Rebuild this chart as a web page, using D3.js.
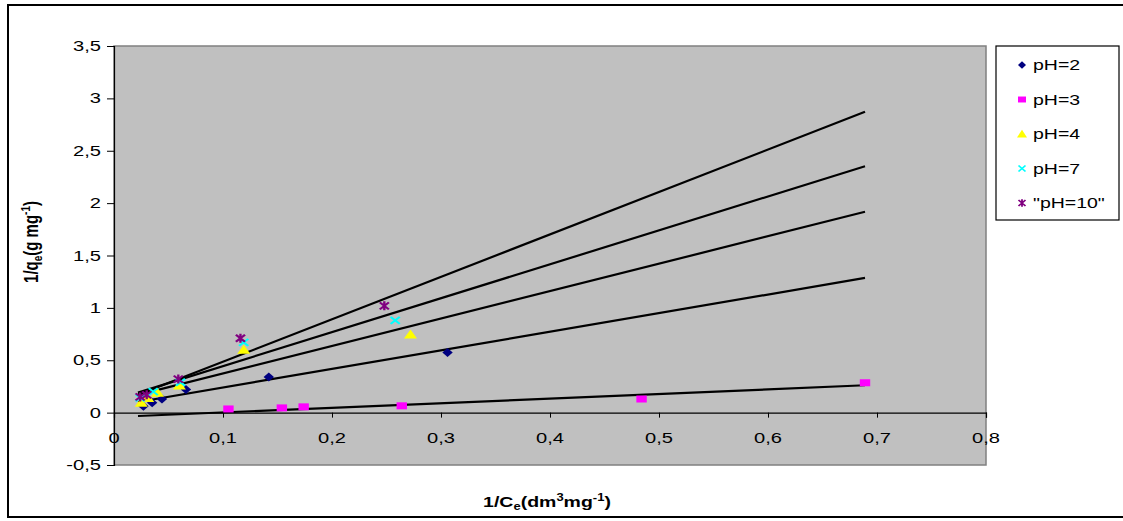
<!DOCTYPE html>
<html>
<head>
<meta charset="utf-8">
<script src="https://cdn.jsdelivr.net/npm/d3@7"></script>
<style>
  body { margin: 0; background: #fff; }
  text { font-family: "Liberation Sans", Arial, sans-serif; }
</style>
</head>
<body>
<svg id="chart" width="1123" height="521"></svg>
<script>
// series
let seriesNames = ['pH=2', 'pH=3', 'pH=4', 'pH=7', '"pH=10"']
let seriesColors = ['#000080', '#FF00FF', '#FFFF00', '#00FFFF', '#800080']
let seriesShapes = ['diamond', 'square', 'triangle', 'cross', 'star']

let ph2 = [[0.027, 0.06], [0.035, 0.095], [0.044, 0.13], [0.066, 0.22], [0.142, 0.34], [0.306, 0.575]]
let ph3 = [[0.105, 0.035], [0.154, 0.045], [0.174, 0.055], [0.264, 0.065], [0.484, 0.13], [0.689, 0.285]]
let ph4 = [[0.025, 0.095], [0.031, 0.14], [0.04, 0.19], [0.06, 0.26], [0.119, 0.6], [0.272, 0.745]]
let ph7 = [[0.024, 0.14], [0.036, 0.2], [0.061, 0.29], [0.119, 0.67], [0.258, 0.88]]
let ph10 = [[0.024, 0.15], [0.03, 0.17], [0.059, 0.32], [0.116, 0.71], [0.248, 1.02]]

// linear trend lines (slope, intercept)
let trendSlopes = [1.776, 0.44, 2.62, 3.24, 4.05]
let trendIntercepts = [0.062, -0.042, 0.112, 0.12, 0.081]
let trendRange = [0.022, 0.689]

let xTicks = [0, 0.1, 0.2, 0.3, 0.4, 0.5, 0.6, 0.7, 0.8]
let yTicks = [-0.5, 0, 0.5, 1, 1.5, 2, 2.5, 3, 3.5]

let allSeries = [ph2, ph3, ph4, ph7, ph10]

let svg = d3.select('#chart')
let stretch = 'scale(1.3,1)'
let fmt = v => String(v).replace('.', ',')

// outer frame
svg.append('rect')
  .attr('x', 8).attr('y', 5)
  .attr('width', 1130).attr('height', 512)
  .attr('fill', 'none').attr('stroke', '#000').attr('stroke-width', 2)

let x = d3.scaleLinear().domain([0, 0.8]).range([114, 986])
let y = d3.scaleLinear().domain([-0.5, 3.5]).range([465, 46])

// plot area
svg.append('rect')
  .attr('x', x(0)).attr('y', y(3.5))
  .attr('width', x(0.8) - x(0)).attr('height', y(-0.5) - y(3.5))
  .attr('fill', '#C0C0C0').attr('stroke', '#808080').attr('stroke-width', 1.5)

// y axis
let yAxis = svg.append('g').attr('transform', 'translate(' + x(0) + ',0)')
  .call(d3.axisLeft(y).tickValues(yTicks).tickSize(7).tickFormat(''))
yAxis.select('.domain').attr('stroke', '#000').attr('stroke-width', 1.2)
yAxis.selectAll('.tick line').attr('stroke', '#000')

yTicks.forEach(v => {
  svg.append('text')
    .attr('transform', 'translate(101,' + (y(v) + 5) + ') ' + stretch)
    .attr('text-anchor', 'end')
    .attr('font-size', 15.5)
    .text(fmt(v))
})

// x axis at y = 0
let xAxis = svg.append('g').attr('transform', 'translate(0,' + y(0) + ')')
  .call(d3.axisBottom(x).tickValues(xTicks).tickSize(5).tickFormat(''))
xAxis.select('.domain').attr('stroke', '#000').attr('stroke-width', 1.2)
xAxis.selectAll('.tick line').attr('stroke', '#000')

xTicks.forEach(v => {
  svg.append('text')
    .attr('transform', 'translate(' + x(v) + ',' + (y(0) + 30) + ') ' + stretch)
    .attr('text-anchor', 'middle')
    .attr('font-size', 15.5)
    .text(fmt(v))
})

// trend lines
trendSlopes.forEach((m, i) => {
  let b = trendIntercepts[i]
  svg.append('line')
    .attr('x1', x(trendRange[0])).attr('y1', y(m * trendRange[0] + b))
    .attr('x2', x(trendRange[1])).attr('y2', y(m * trendRange[1] + b))
    .attr('stroke', '#000').attr('stroke-width', 2.2)
})

// marker drawing
let drawMarker = (g, shape, color) => {
  if (shape === 'diamond') {
    g.append('path').attr('d', 'M0,-4.5L4,0L0,4.5L-4,0Z').attr('fill', color)
  } else if (shape === 'square') {
    g.append('rect').attr('x', -4).attr('y', -3.5).attr('width', 8).attr('height', 7).attr('fill', color)
  } else if (shape === 'triangle') {
    g.append('path').attr('d', 'M0,-5L5,4L-5,4Z').attr('fill', color)
  } else if (shape === 'cross') {
    g.append('path').attr('d', 'M-3.5,-3.5L3.5,3.5M-3.5,3.5L3.5,-3.5').attr('stroke', color).attr('stroke-width', 1.8)
  } else {
    g.append('path').attr('d', 'M-3.5,-3.5L3.5,3.5M-3.5,3.5L3.5,-3.5M0,-4.5L0,4.5').attr('stroke', color).attr('stroke-width', 1.8)
  }
}

allSeries.forEach((pts, i) => {
  pts.forEach(p => {
    let g = svg.append('g').attr('transform', 'translate(' + x(p[0]) + ',' + y(p[1]) + ') ' + stretch)
    drawMarker(g, seriesShapes[i], seriesColors[i])
  })
})

// axis titles
let yTitle = svg.append('text')
  .attr('transform', 'translate(38,242) ' + stretch + ' rotate(-90)')
  .attr('text-anchor', 'middle')
  .attr('font-size', 15).attr('font-weight', 'bold')
yTitle.append('tspan').text('1/q')
yTitle.append('tspan').attr('font-size', 10).attr('dy', 3).text('e')
yTitle.append('tspan').attr('dy', -3).text('(g mg')
yTitle.append('tspan').attr('font-size', 10).attr('dy', -6).text('-1')
yTitle.append('tspan').attr('dy', 6).text(')')

let xTitle = svg.append('text')
  .attr('transform', 'translate(547,507) ' + stretch)
  .attr('text-anchor', 'middle')
  .attr('font-size', 15).attr('font-weight', 'bold')
xTitle.append('tspan').text('1/C')
xTitle.append('tspan').attr('font-size', 10).attr('dy', 3).text('e')
xTitle.append('tspan').attr('dy', -3).text('(dm')
xTitle.append('tspan').attr('font-size', 10).attr('dy', -6).text('3')
xTitle.append('tspan').attr('dy', 6).text('mg')
xTitle.append('tspan').attr('font-size', 10).attr('dy', -6).text('-1')
xTitle.append('tspan').attr('dy', 6).text(')')

// legend
svg.append('rect')
  .attr('x', 996).attr('y', 46).attr('width', 123).attr('height', 174)
  .attr('fill', '#fff').attr('stroke', '#000').attr('stroke-width', 1.2)

seriesNames.forEach((name, i) => {
  let ly = 65 + i * 34.5
  let g = svg.append('g').attr('transform', 'translate(1022,' + ly + ') scale(1,0.85)')
  drawMarker(g, seriesShapes[i], seriesColors[i])
  svg.append('text')
    .attr('transform', 'translate(1033,' + (ly + 5) + ') ' + stretch)
    .attr('font-size', 15)
    .text(name)
})
</script>
</body>
</html>
